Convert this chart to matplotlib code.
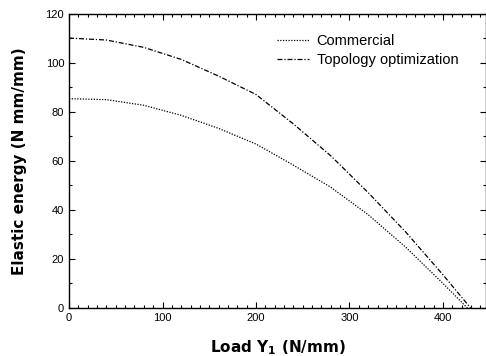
import matplotlib
matplotlib.use("Agg")
import matplotlib.pyplot as plt
from matplotlib.ticker import MultipleLocator

# ===== DADOS =====
load = [0, 40, 80, 120, 160, 200, 240, 280, 320, 360, 400]
commercial = [85.3, 84.9, 82.6, 78.5, 73.2, 66.8, 58.2, 49.2, 38.0, 24.8, 10.0]
topology = [110.0, 109.2, 106.2, 101.3, 94.5, 87.0, 75.0, 62.0, 47.0, 31.0, 13.5]
# pontos finais onde a energia chega a zero
load_com_end, load_top_end = 426, 429.5

x_com = load + [load_com_end]
y_com = commercial + [0]
x_top = load + [load_top_end]
y_top = topology + [0]

plt.rcParams["font.family"] = ["Liberation Sans", "DejaVu Sans"]

fig = plt.figure(figsize=(4.86, 3.56), dpi=100)
ax = fig.add_axes([0.142, 0.135, 0.858, 0.827])

ax.plot(x_com, y_com, color="black", linewidth=0.9, linestyle=(0, (1, 1.2)),
        label="Commercial")
ax.plot(x_top, y_top, color="black", linewidth=0.9, linestyle=(0, (4, 1.5, 1, 1.5)),
        label="Topology optimization")

ax.set_xlim(0, 446)
ax.set_ylim(0, 120)
ax.xaxis.set_major_locator(MultipleLocator(100))
ax.xaxis.set_minor_locator(MultipleLocator(10))
ax.yaxis.set_major_locator(MultipleLocator(20))
ax.yaxis.set_minor_locator(MultipleLocator(10))
ax.tick_params(which="both", direction="in", top=True, right=True,
               labelsize=8, width=0.8)
ax.tick_params(which="major", length=4)
ax.tick_params(which="minor", length=2.2)
for s in ax.spines.values():
    s.set_linewidth(1.0)

lab_font = dict(family="DejaVu Sans", fontsize=11, fontweight="bold")
ax.set_xlabel("Load Y$_\\mathbf{1}$ (N/mm)", labelpad=11, **lab_font)
ax.set_ylabel("Elastic energy (N mm/mm)", labelpad=13, **lab_font)

ax.legend(loc="upper right", frameon=False, fontsize=10.5, handlelength=2.2,
          handletextpad=0.55, labelspacing=0.35, bbox_to_anchor=(0.965, 0.975))

fig.savefig("out.png", dpi=100)
